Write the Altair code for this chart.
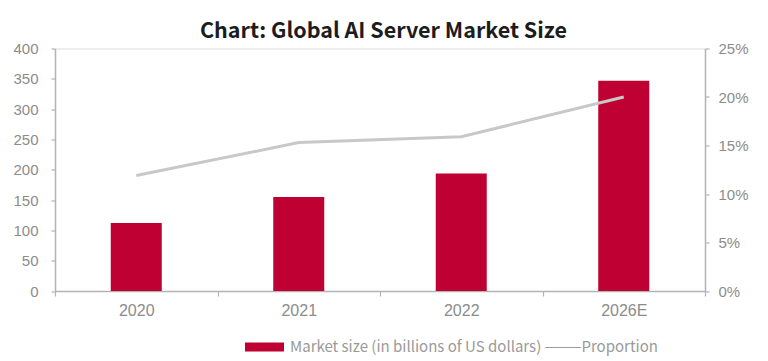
import altair as alt
import pandas as pd

years = ["2020", "2021", "2022", "2026E"]
market_size = [112, 155, 194, 347]
proportion = [0.119, 0.153, 0.159, 0.200]
legend_label = "Market size (in billions of US dollars) ———Proportion"
left_ticks = [0, 50, 100, 150, 200, 250, 300, 350, 400]
right_ticks = [0, 0.05, 0.10, 0.15, 0.20, 0.25]

df = pd.DataFrame({
    "year": years,
    "size": market_size,
    "prop": proportion,
    "series": [legend_label] * len(years),
})

AXIS_GREY = "#b3b3b3"
LABEL_GREY = "#8c8c8c"
RED = "#be0032"

x_enc = alt.X(
    "year:N", sort=years, title=None,
    scale=alt.Scale(paddingInner=0, paddingOuter=0),
    axis=alt.Axis(labelAngle=0, tickBand="extent", labelFont="Liberation Sans",
                  labelFontSize=16, labelColor=LABEL_GREY, domainColor=AXIS_GREY,
                  domainWidth=1.5, tickColor=AXIS_GREY, tickWidth=1.2, tickSize=5,
                  labelPadding=6, grid=False),
)

bars = alt.Chart(df).mark_bar(size=51).encode(
    x=x_enc,
    y=alt.Y("size:Q", title=None, scale=alt.Scale(domain=[0, 400], nice=False),
            axis=alt.Axis(values=left_ticks, orient="left", labelFont="Liberation Sans",
                          labelFontSize=15, labelColor=LABEL_GREY, domainColor=AXIS_GREY,
                          domainWidth=1.5, tickColor=AXIS_GREY, tickWidth=1.2, tickSize=4,
                          labelPadding=13, grid=False)),
    color=alt.Color("series:N", scale=alt.Scale(range=[RED]),
                    legend=alt.Legend(title=None, orient="none", legendX=190, legendY=279,
                                      symbolType="M-1,-0.23H1V0.23H-1Z", symbolSize=1521,
                                      symbolStrokeWidth=0, labelFont="Noto Sans CJK SC",
                                      labelFontSize=15, labelColor="#9a9a9a", labelOffset=6,
                                      padding=0, labelLimit=0)),
)

line = alt.Chart(df).mark_line(color="#c8c8c8", strokeWidth=3).encode(
    x=x_enc,
    y=alt.Y("prop:Q", title=None, scale=alt.Scale(domain=[0, 0.25], nice=False),
            axis=alt.Axis(values=right_ticks, orient="right", format=".0%",
                          labelFont="Liberation Sans", labelFontSize=15,
                          labelColor=LABEL_GREY, domainColor=AXIS_GREY, domainWidth=1.5,
                          tickColor=AXIS_GREY, tickWidth=1.2, tickSize=4, labelPadding=9,
                          grid=False)),
)

chart = alt.layer(bars, line).resolve_scale(y="independent").properties(
    width=650,
    height=242.5,
    autosize="none",
    padding={"left": 47, "top": 40.5, "right": 55, "bottom": 67},
    title=alt.TitleParams(text="Chart: Global AI Server Market Size", font="Noto Sans CJK SC",
                          fontSize=21.5, fontWeight="bold", color="#1c1c1c", anchor="middle",
                          frame="group", dx=3.5, dy=30, baseline="alphabetic", offset=12),
).configure_view(stroke=None).configure(background="white")

chart.save("out.html", embed_options={"renderer": "svg", "actions": False})
